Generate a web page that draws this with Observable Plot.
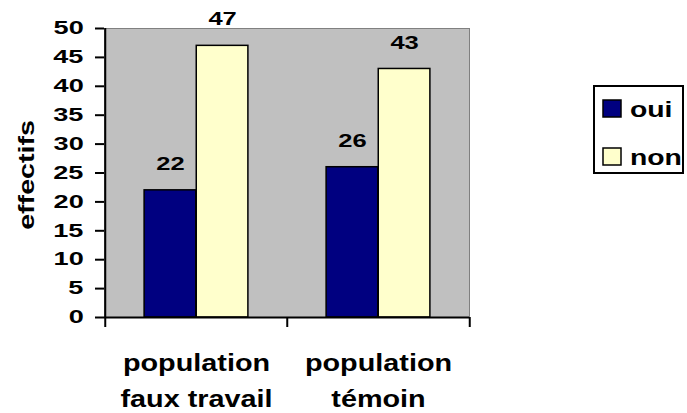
<!DOCTYPE html>
<html><head><meta charset="utf-8">
<script src="https://cdn.jsdelivr.net/npm/d3@7"></script>
<script src="https://cdn.jsdelivr.net/npm/@observablehq/plot@0.6"></script>
<style>
body{margin:0;background:#fff}
#wrap{position:relative;width:687px;height:413px}
#legend{position:absolute;left:593px;top:85px}
</style></head><body><div id="wrap"></div>
<script>
const categories = ["population\nfaux travail", "population\ntémoin"];
const seriesNames = ["oui", "non"];
const ouiValues = [22, 26];
const nonValues = [47, 43];
const seriesColors = ["#000080", "#FFFFCC"];
const yTicks = [0, 5, 10, 15, 20, 25, 30, 35, 40, 45, 50];
const yLabel = "effectifs";

const rows = categories.flatMap((c, i) => [
  {category: c, series: seriesNames[0], value: ouiValues[i]},
  {category: c, series: seriesNames[1], value: nonValues[i]}
]);

const W = 687, H = 413, mL = 104, mR = 218, mT = 28, mB = 96;
const bw = (W - mL - mR) / categories.length;
const barW = bw / 3.5;
const outer = 0.75 * barW;
const inner = bw - outer - barW;
const FONT = "'Liberation Sans', Arial, sans-serif";

const ouiRows = rows.filter(d => d.series === seriesNames[0]);
const nonRows = rows.filter(d => d.series === seriesNames[1]);

const chart = Plot.plot({
  width: W, height: H,
  marginLeft: mL, marginRight: mR, marginTop: mT, marginBottom: mB,
  style: {fontFamily: FONT, fontWeight: "bold", color: "black", background: "white"},
  x: {domain: categories, padding: 0, axis: null},
  y: {domain: [0, 50], axis: null},
  color: {domain: seriesNames, range: seriesColors},
  marks: [
    Plot.frame({fill: "#C0C0C0", stroke: "#808080", strokeWidth: 1}),
    Plot.barY(ouiRows, {x: "category", y: "value", fill: "series", stroke: "black", strokeWidth: 1.5, insetLeft: outer, insetRight: inner}),
    Plot.barY(nonRows, {x: "category", y: "value", fill: "series", stroke: "black", strokeWidth: 1.5, insetLeft: inner, insetRight: outer}),
    Plot.text(ouiRows, {x: "category", y: "value", text: d => String(d.value), dx: -barW / 2, dy: -26, lineAnchor: "middle", fontSize: 18.5, fill: "black"}),
    Plot.text(nonRows, {x: "category", y: "value", text: d => String(d.value), dx: barW / 2, dy: -26, lineAnchor: "middle", fontSize: 18.5, fill: "black"}),
    Plot.ruleY([0], {stroke: "black", strokeWidth: 2}),
    Plot.ruleX([categories[0]], {dx: -bw / 2, stroke: "black", strokeWidth: 2}),
    Plot.ruleX(categories, {y1: 0, y2: 0, insetBottom: -10, dx: -bw / 2, stroke: "black", strokeWidth: 2}),
    Plot.ruleX([categories[categories.length - 1]], {y1: 0, y2: 0, insetBottom: -10, dx: bw / 2, stroke: "black", strokeWidth: 2}),
    Plot.axisY({ticks: yTicks, tickSize: 9, tickPadding: 12, fontSize: 17.5, strokeWidth: 2, stroke: "black", label: null, tickFormat: d => String(d)}),
    Plot.text(categories, {x: d => d, frameAnchor: "bottom", dy: 28, lineAnchor: "top", lineHeight: 1.5, fontSize: 24, fill: "black"}),
    Plot.text([yLabel], {frameAnchor: "left", textAnchor: "middle", dx: -78, dy: 2, rotate: -90, lineAnchor: "middle", fontSize: 22, fill: "black"})
  ]
});

document.getElementById("wrap").appendChild(chart);

// horizontal widening of glyphs (along the text direction) as in the reference rendering
const stretch = {"17.5": 1.55, "18.5": 1.38, "24": 1.2, "22": 1.3};
chart.querySelectorAll("text").forEach(t => {
  let el = t, fs = null;
  while (el && el !== chart) {
    if (el.getAttribute && el.getAttribute("font-size")) { fs = el.getAttribute("font-size"); break; }
    el = el.parentNode;
  }
  const s = stretch[fs];
  if (!s) return;
  const anchor = getComputedStyle(t).textAnchor;
  const b0 = t.getBoundingClientRect();
  const xv = parseFloat(t.getAttribute("x"));
  const x = Number.isFinite(xv) ? xv : 0;
  const tr = t.getAttribute("transform") || "";
  const scaled = `${tr} translate(${x},0) scale(${s},1) translate(${-x},0)`;
  t.setAttribute("transform", scaled);
  const b1 = t.getBoundingClientRect();
  let ddx;
  if (anchor === "end") ddx = b0.right - b1.right;
  else if (anchor === "start") ddx = b0.left - b1.left;
  else ddx = (b0.left + b0.right) / 2 - (b1.left + b1.right) / 2;
  const ddy = (b0.top + b0.bottom) / 2 - (b1.top + b1.bottom) / 2;
  t.setAttribute("transform", `translate(${ddx},${ddy}) ${scaled}`);
});

// legend
const lg = d3.select("#wrap").append("svg").attr("id", "legend")
  .attr("width", 91).attr("height", 89)
  .style("font-family", FONT).style("font-weight", "bold");
lg.append("rect").attr("x", 1).attr("y", 1).attr("width", 89).attr("height", 87)
  .attr("fill", "white").attr("stroke", "black").attr("stroke-width", 2);
seriesNames.forEach((name, i) => {
  const y0 = 15 + i * 48;
  lg.append("rect").attr("x", 10).attr("y", y0).attr("width", 18).attr("height", 17)
    .attr("fill", seriesColors[i]).attr("stroke", "black").attr("stroke-width", 1.5);
  lg.append("text").attr("x", 37).attr("y", y0 + 17.5).attr("font-size", 22.5)
    .attr("transform", `translate(37,0) scale(1.26,1) translate(-37,0)`)
    .text(name);
});
</script>
</body></html>
